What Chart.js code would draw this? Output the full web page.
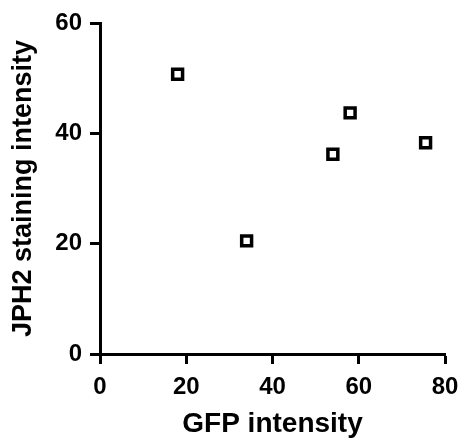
<!DOCTYPE html>
<html>
<head>
<meta charset="utf-8">
<script src="https://cdn.jsdelivr.net/npm/chart.js@4"></script>
<style>
  html, body { margin: 0; padding: 0; background: #fff; }
  #wrap { width: 461px; height: 441px; position: relative; }
</style>
</head>
<body>
<div id="wrap"><canvas id="scatterChart"></canvas></div>
<script>
// values
const gfpIntensity = [18, 34, 54, 58, 75.5];
const jph2Intensity = [50.7, 20.5, 36.2, 43.7, 38.3];
const xTicks = [0, 20, 40, 60, 80];
const yTicks = [0, 20, 40, 60];

const points = gfpIntensity.map((x, i) => ({ x: x, y: jph2Intensity[i] }));

const font = 'Liberation Sans, Arial, sans-serif';

const ctx = document.getElementById('scatterChart').getContext('2d');
new Chart(ctx, {
    type: 'scatter',
    data: {
        datasets: [{
            data: points,
            pointStyle: 'rect',
            pointRadius: 7,
            pointHoverRadius: 7,
            pointBorderWidth: 3.5,
            borderColor: '#000',
            backgroundColor: '#fff'
        }]
    },
    options: {
        responsive: true,
        maintainAspectRatio: false,
        animation: false,
        plugins: {
            legend: { display: false },
            tooltip: { enabled: false }
        },
        layout: {
            padding: { left: 0, right: 16, top: 23, bottom: 0 }
        },
        scales: {
            x: {
                type: 'linear',
                min: 0,
                max: 80,
                afterBuildTicks: (scale) => { scale.ticks = xTicks.map(v => ({ value: v })); },
                afterFit: (scale) => {
                    scale.height = 87;
                    scale.paddingLeft = 0;
                    scale.paddingRight = 0;
                },
                border: { display: true, color: '#000', width: 3 },
                grid: {
                    drawOnChartArea: false,
                    drawTicks: true,
                    tickLength: 10,
                    tickWidth: 3,
                    tickColor: '#000'
                },
                ticks: {
                    color: '#000',
                    padding: 9,
                    maxRotation: 0,
                    font: { family: font, size: 24, weight: 'bold' }
                },
                title: {
                    display: true,
                    text: 'GFP intensity',
                    color: '#000',
                    padding: { top: 0, bottom: 0 },
                    font: { family: font, size: 28, weight: 'bold' }
                }
            },
            y: {
                type: 'linear',
                min: 0,
                max: 60,
                afterBuildTicks: (scale) => { scale.ticks = yTicks.map(v => ({ value: v })); },
                afterFit: (scale) => {
                    scale.width = 100;
                    scale.paddingTop = 0;
                    scale.paddingBottom = 0;
                },
                border: { display: true, color: '#000', width: 3 },
                grid: {
                    drawOnChartArea: false,
                    drawTicks: true,
                    tickLength: 10,
                    tickWidth: 3,
                    tickColor: '#000'
                },
                ticks: {
                    color: '#000',
                    padding: 8,
                    font: { family: font, size: 24, weight: 'bold' }
                },
                title: {
                    display: true,
                    text: 'JPH2 staining intensity',
                    color: '#000',
                    padding: { top: 7, bottom: 0 },
                    font: { family: font, size: 27, weight: 'bold' }
                }
            }
        }
    }
});
</script>
</body>
</html>
